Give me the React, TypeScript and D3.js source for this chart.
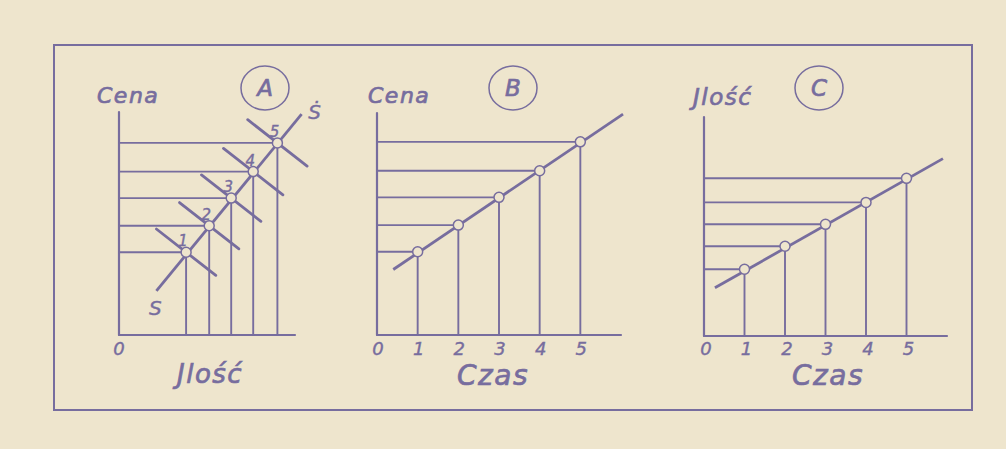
import React, { useEffect, useRef } from "react";
import * as d3 from "d3";

// five successive periods (Czas)
const periods = [1, 2, 3, 4, 5];
const timeTicks = [0, 1, 2, 3, 4, 5];
// quantity (Ilość) and price (Cena) reached in each period
const quantity = [3.05, 4.1, 5.1, 6.1, 7.2];
const price = [3.75, 4.95, 6.2, 7.4, 8.7];
// supply line S - Ṡ in panel A, as [quantity, price]
const supplyLine: [number, number][] = [[1.7, 2.0], [8.3, 10.0]];
// trend lines: B as [time, price], C as [time, quantity]
const priceTrend: [number, number][] = [[0.4, 2.95], [6.05, 9.95]];
const quantityTrend: [number, number][] = [[0.27, 2.2], [5.9, 8.1]];
// half length of the crossing demand segments in panel A
const demandHalf = [1.35, 1.05];

const INK = "#776d9e";
const BG = "#eee5cd";
const FONT = "'DejaVu Sans', sans-serif";

const App = () => {
  const svgRef = useRef<SVGSVGElement>(null);

  useEffect(() => {
    const svg = d3.select(svgRef.current);
    const width = 1006;
    const height = 449;

    svg.selectAll("*").remove();

    svg.append("rect").attr("width", width).attr("height", height).attr("fill", BG);

    // outer frame
    svg.append("rect")
      .attr("x", 54).attr("y", 45)
      .attr("width", 918).attr("height", 365)
      .attr("fill", "none").attr("stroke", INK).attr("stroke-width", 2);

    const seg = (g, x1, y1, x2, y2, w) =>
      g.append("line")
        .attr("x1", x1).attr("y1", y1).attr("x2", x2).attr("y2", y2)
        .attr("stroke", INK).attr("stroke-width", w).attr("stroke-linecap", "round");

    const label = (g, text, x, y, size, anchor = "start") =>
      g.append("text")
        .attr("x", x).attr("y", y)
        .attr("text-anchor", anchor)
        .attr("font-family", FONT).attr("font-style", "italic")
        .attr("font-size", size).attr("letter-spacing", size > 20 ? 1.5 : 0)
        .attr("fill", INK)
        .attr("stroke", INK).attr("stroke-width", size > 20 ? 0.7 : 0.4)
        .text(text);

    const badge = (g, text, cx, cy) => {
      g.append("ellipse")
        .attr("cx", cx).attr("cy", cy).attr("rx", 24).attr("ry", 22)
        .attr("fill", "none").attr("stroke", INK).attr("stroke-width", 1.5);
      label(g, text, cx, cy + 8, 23, "middle").attr("letter-spacing", 0);
    };

    const dot = (g, x, y) =>
      g.append("circle")
        .attr("cx", x).attr("cy", y).attr("r", 5)
        .attr("fill", BG).attr("stroke", INK).attr("stroke-width", 1.5);

    const line = d3.line();

    // ---- Panel A: Cena vs Ilość ----
    const gA = svg.append("g");
    const xA = d3.scaleLinear().domain([0, 8]).range([119, 295]);
    const yA = d3.scaleLinear().domain([0, 10.1]).range([335, 112]);

    seg(gA, xA(0), yA(0), xA(0), yA(10.1), 2.2);
    seg(gA, xA(0), yA(0), xA(8), yA(0), 2.2);

    periods.forEach((p, i) => {
      seg(gA, xA(0), yA(price[i]), xA(quantity[i]), yA(price[i]), 1.9);
      seg(gA, xA(quantity[i]), yA(price[i]), xA(quantity[i]), yA(0), 1.9);
    });
    periods.forEach((p, i) => {
      seg(gA,
        xA(quantity[i] - demandHalf[0]), yA(price[i] + demandHalf[1]),
        xA(quantity[i] + demandHalf[0]), yA(price[i] - demandHalf[1]), 2.8);
    });
    gA.append("path")
      .attr("d", line(supplyLine.map(([q, p]) => [xA(q), yA(p)])))
      .attr("stroke", INK).attr("stroke-width", 2.8).attr("fill", "none");
    periods.forEach((p, i) => {
      dot(gA, xA(quantity[i]), yA(price[i]));
      label(gA, String(p), xA(quantity[i]) - 3, yA(price[i]) - 6, 15, "middle");
    });

    label(gA, "Cena", 97, 103, 22);
    label(gA, "Jlość", 177, 383, 26);
    label(gA, "0", xA(0), 355, 18, "middle");
    label(gA, "S", xA(supplyLine[0][0]) - 1, yA(supplyLine[0][1]) + 24, 20, "middle").attr("letter-spacing", 0);
    label(gA, "Ṡ", xA(supplyLine[1][0]) + 13, yA(supplyLine[1][1]) + 5, 20, "middle").attr("letter-spacing", 0);
    badge(gA, "A", 265, 88);

    // ---- Panel B: Cena vs Czas ----
    const gB = svg.append("g");
    const xB = d3.scaleLinear().domain([0, 6]).range([377, 621]);
    const yB = d3.scaleLinear().domain([0, 10]).range([335, 113]);

    seg(gB, xB(0), yB(0), xB(0), yB(10), 2.2);
    seg(gB, xB(0), yB(0), xB(6), yB(0), 2.2);
    periods.forEach((t, i) => {
      seg(gB, xB(0), yB(price[i]), xB(t), yB(price[i]), 1.9);
      seg(gB, xB(t), yB(price[i]), xB(t), yB(0), 1.9);
    });
    gB.append("path")
      .attr("d", line(priceTrend.map(([t, p]) => [xB(t), yB(p)])))
      .attr("stroke", INK).attr("stroke-width", 2.8).attr("fill", "none");
    periods.forEach((t, i) => dot(gB, xB(t), yB(price[i])));
    timeTicks.forEach((t) => label(gB, String(t), xB(t) + 1, 355, 18, "middle"));
    label(gB, "Cena", 368, 103, 22);
    label(gB, "Czas", 457, 385, 28);
    badge(gB, "B", 513, 88);

    // ---- Panel C: Ilość vs Czas ----
    const gC = svg.append("g");
    const xC = d3.scaleLinear().domain([0, 6]).range([704, 947]);
    const yC = d3.scaleLinear().domain([0, 10]).range([336, 117]);

    seg(gC, xC(0), yC(0), xC(0), yC(10), 2.2);
    seg(gC, xC(0), yC(0), xC(6), yC(0), 2.2);
    periods.forEach((t, i) => {
      seg(gC, xC(0), yC(quantity[i]), xC(t), yC(quantity[i]), 1.9);
      seg(gC, xC(t), yC(quantity[i]), xC(t), yC(0), 1.9);
    });
    gC.append("path")
      .attr("d", line(quantityTrend.map(([t, q]) => [xC(t), yC(q)])))
      .attr("stroke", INK).attr("stroke-width", 2.8).attr("fill", "none");
    periods.forEach((t, i) => dot(gC, xC(t), yC(quantity[i])));
    timeTicks.forEach((t) => label(gC, String(t), xC(t) + 2, 355, 18, "middle"));
    label(gC, "Jlość", 693, 105, 23);
    label(gC, "Czas", 792, 385, 28);
    badge(gC, "C", 819, 88);
  }, []);

  return (
    <svg
      ref={svgRef}
      width={1006}
      height={449}
      style={{ position: "absolute", left: 0, top: 0, display: "block" }}
    ></svg>
  );
};

export default App;
